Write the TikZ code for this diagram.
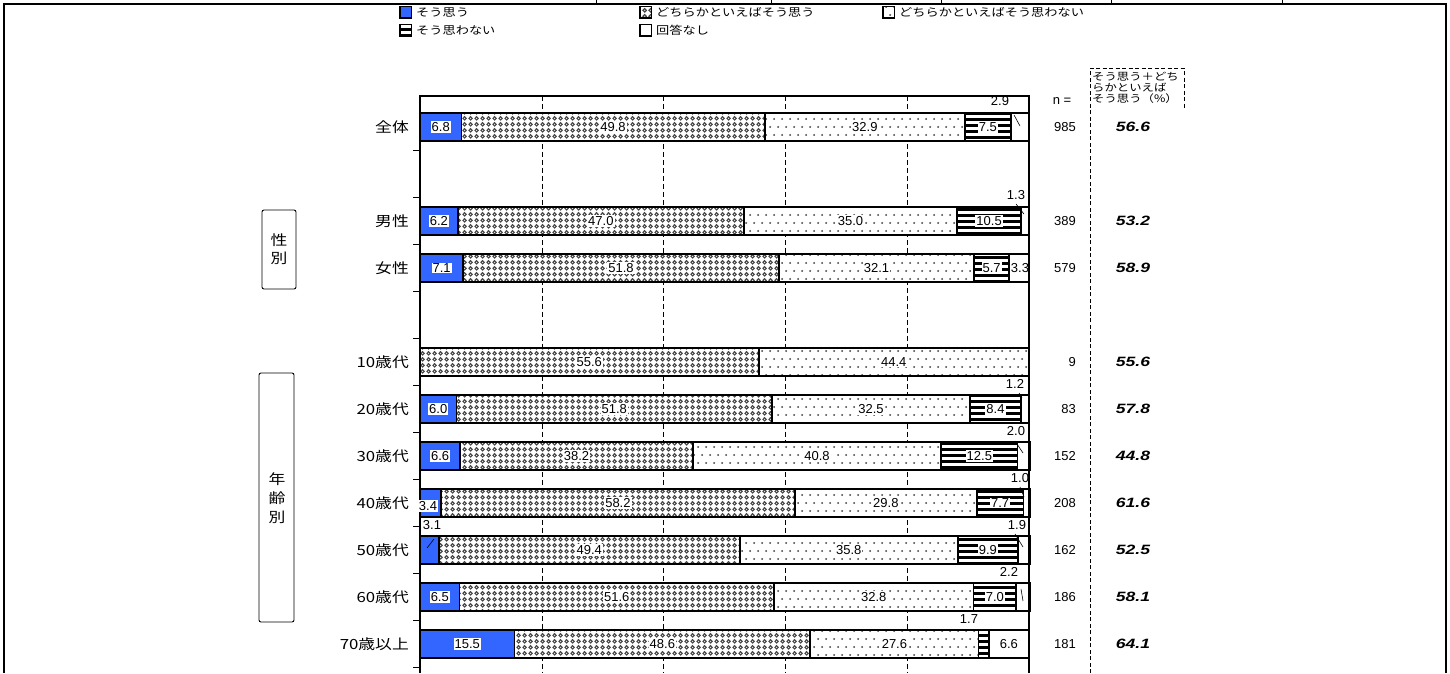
\documentclass[tikz,border=0pt]{standalone}
\usepackage{fontspec}
\usetikzlibrary{patterns}
\newfontfamily\jp[FakeStretch=1.2]{Noto Sans CJK JP}
\newfontfamily\nm{Liberation Sans}
\newfontfamily\sm[FakeStretch=1.3]{Liberation Sans}
\definecolor{jblue}{RGB}{51,102,255}
\pgfdeclarepatternformonly{diam}{\pgfpointorigin}{\pgfpoint{6pt}{6pt}}{\pgfpoint{6pt}{6pt}}{%
  \pgfpathmoveto{\pgfpoint{3pt}{0.2pt}}\pgfpathlineto{\pgfpoint{5.8pt}{3pt}}%
  \pgfpathlineto{\pgfpoint{3pt}{5.8pt}}\pgfpathlineto{\pgfpoint{0.2pt}{3pt}}\pgfpathclose
  \pgfpathmoveto{\pgfpoint{3pt}{2pt}}\pgfpathlineto{\pgfpoint{4pt}{3pt}}%
  \pgfpathlineto{\pgfpoint{3pt}{4pt}}\pgfpathlineto{\pgfpoint{2pt}{3pt}}\pgfpathclose
  \pgfseteorule\pgfusepath{fill}}
\pgfdeclarepatternformonly{sdots}{\pgfpoint{-1pt}{-1pt}}{\pgfpoint{9pt}{17pt}}{\pgfpoint{8pt}{16pt}}{%
  \pgfpathcircle{\pgfpoint{2pt}{2pt}}{1pt}\pgfpathcircle{\pgfpoint{6pt}{10pt}}{1pt}\pgfusepath{fill}}
\pgfdeclarepatternformonly{hstripes}{\pgfpoint{-0.5pt}{0pt}}{\pgfpoint{1.5pt}{6pt}}{\pgfpoint{1pt}{6pt}}{%
  \pgfpathrectangle{\pgfpoint{-0.5pt}{0pt}}{\pgfpoint{2pt}{3pt}}\pgfusepath{fill}}
\newcommand\drawbar[6]{%
  \pgfmathsetmacro\bxA{420}%
  \pgfmathsetmacro\bxB{\bxA+6.09*#2}%
  \pgfmathsetmacro\bxC{\bxB+6.09*#3}%
  \pgfmathsetmacro\bxD{\bxC+6.09*#4}%
  \pgfmathsetmacro\bxE{\bxD+6.09*#5}%
  \pgfmathsetmacro\bxF{\bxE+6.09*#6}%
  \path[segA] (\bxA,{#1-14}) rectangle (\bxB,{#1+14});
  \path[segB] (\bxB,{#1-14}) rectangle (\bxC,{#1+14});
  \path[segC] (\bxC,{#1-14}) rectangle (\bxD,{#1+14});
  \path[segD] (\bxD,{#1-14}) rectangle (\bxE,{#1+14});
  \path[segE] (\bxE,{#1-14}) rectangle (\bxF,{#1+14});
}
\begin{document}
\begin{tikzpicture}[x=1pt,y=-1pt,
  segA/.style={fill=jblue,draw=black,line width=1.8},
  segB/.style={preaction={fill=white},pattern=diam,pattern color=black!72,draw=black,line width=1.8},
  segC/.style={preaction={fill=white},pattern=sdots,pattern color=black!78,draw=black,line width=1.8},
  segD/.style={preaction={fill=white},pattern=hstripes,pattern color=black,draw=black,line width=1.8},
  segE/.style={fill=white,draw=black,line width=1.8},
  val/.style={fill=white,inner sep=1pt,font=\fontsize{13}{12}\selectfont\nm},
  oval/.style={inner sep=0.5pt,font=\fontsize{13}{12}\selectfont\nm},
  rowlab/.style={anchor=east,inner sep=0pt,font=\fontsize{14}{14}\selectfont\jp},
  nval/.style={anchor=east,inner sep=0pt,font=\fontsize{13}{12}\selectfont\nm},
  sval/.style={inner sep=0pt,font=\fontsize{13.5}{13}\selectfont\sm\bfseries\itshape},
  leg/.style={anchor=west,inner sep=0pt,font=\fontsize{11}{11}\selectfont\jp},
  legbox/.style={line width=1.8,draw=black},
  grid/.style={line width=0.6,dash pattern=on 5pt off 3pt},
  ldr/.style={line width=0.6},
  side/.style={draw=black,line width=0.9,rounded corners=2pt},
  sidetxt/.style={inner sep=0pt,font=\fontsize{14}{14}\selectfont\jp},
  hdr/.style={anchor=west,inner sep=0pt,font=\fontsize{10.3}{10}\selectfont\jp},
  dsh/.style={line width=0.7,dash pattern=on 4pt off 2.5pt}]
\useasboundingbox (0,0) rectangle (1450,673);

% outer frame
\draw[line width=2.6] (3,4) -- (1447,4);
\foreach \tx in {596,771,941,1111,1282}{\draw[line width=0.9] (\tx,0) -- (\tx,4);}
\draw[line width=1.4] (4,4) -- (4,673);
\draw[line width=1.4] (1446,4) -- (1446,673);

% legend
\path[legbox,fill=jblue] (400,6.5) rectangle (411.5,18);
\node[leg] (lg1) at (416,12.5) {そう思う};
\path[legbox,preaction={fill=white},pattern=diam,pattern color=black!72] (640,6.5) rectangle (651.5,18);
\node[leg] (lg2) at (656,12.5) {どちらかといえばそう思う};
\path[legbox,preaction={fill=white},pattern=sdots,pattern color=black!78] (883,6.5) rectangle (894.5,18);
\node[leg] (lg3) at (899,12.5) {どちらかといえばそう思わない};
\path[legbox,preaction={fill=white},pattern=hstripes,pattern color=black] (400,24.5) rectangle (411.5,36);
\node[leg] (lg4) at (416,30.5) {そう思わない};
\path[legbox,fill=white] (640,24.5) rectangle (651.5,36);
\node[leg] (lg5) at (656,30.5) {回答なし};

% grid
\foreach \gx in {541.8,663.6,785.4,907.2}{\draw[grid] (\gx,96) -- (\gx,673);}

% bars
\drawbar{127}{6.8}{49.8}{32.9}{7.5}{2.9}
\node[val] (a1) at ({(\bxA+\bxB)/2},127) {6.8};
\node[val] (a2) at ({(\bxB+\bxC)/2},127) {49.8};
\node[val] (a3) at ({(\bxC+\bxD)/2},127) {32.9};
\node[val] (a4) at ({(\bxD+\bxE)/2},127) {7.5};
\node[oval] (a5) at (1000,101) {2.9};
\coordinate (a5p) at (1014,115); \coordinate (a5q) at (1020,126);
\draw[ldr] (a5p) -- (a5q);

\drawbar{221}{6.2}{47.0}{35.0}{10.5}{1.3}
\node[val] (b1) at ({(\bxA+\bxB)/2},221) {6.2};
\node[val] (b2) at ({(\bxB+\bxC)/2},221) {47.0};
\node[val] (b3) at ({(\bxC+\bxD)/2},221) {35.0};
\node[val] (b4) at ({(\bxD+\bxE)/2},221) {10.5};
\node[oval] (b5) at (1016,195) {1.3};
\coordinate (b5p) at (1016,204); \coordinate (b5q) at (1024,214);
\draw[ldr] (b5p) -- (b5q);

\drawbar{268}{7.1}{51.8}{32.1}{5.7}{3.3}
\node[val] (c1) at ({(\bxA+\bxB)/2},268) {7.1};
\node[val] (c2) at ({(\bxB+\bxC)/2},268) {51.8};
\node[val] (c3) at ({(\bxC+\bxD)/2},268) {32.1};
\node[val] (c4) at ({(\bxD+\bxE)/2},268) {5.7};
\node[val] (c5) at (1020,268) {3.3};

\drawbar{362}{0}{55.6}{44.4}{0}{0}
\node[val] (d2) at ({(\bxB+\bxC)/2},362) {55.6};
\node[val] (d3) at ({(\bxC+\bxD)/2},362) {44.4};

\drawbar{409}{6.0}{51.8}{32.5}{8.4}{1.2}
\node[val] (e1) at ({(\bxA+\bxB)/2},409) {6.0};
\node[val] (e2) at ({(\bxB+\bxC)/2},409) {51.8};
\node[val] (e3) at ({(\bxC+\bxD)/2},409) {32.5};
\node[val] (e4) at ({(\bxD+\bxE)/2},409) {8.4};
\node[oval] (e5) at (1015,384) {1.2};
\coordinate (e5p) at (1019,393); \coordinate (e5q) at (1022,398);
\draw[ldr] (e5p) -- (e5q);

\drawbar{456}{6.6}{38.2}{40.8}{12.5}{2.0}
\node[val] (f1) at ({(\bxA+\bxB)/2},456) {6.6};
\node[val] (f2) at ({(\bxB+\bxC)/2},456) {38.2};
\node[val] (f3) at ({(\bxC+\bxD)/2},456) {40.8};
\node[val] (f4) at ({(\bxD+\bxE)/2},456) {12.5};
\node[oval] (f5) at (1016,431) {2.0};
\coordinate (f5p) at (1015,441); \coordinate (f5q) at (1023,453);
\draw[ldr] (f5p) -- (f5q);

\drawbar{503}{3.4}{58.2}{29.8}{7.7}{1.0}
\node[val] (g2) at ({(\bxB+\bxC)/2},503) {58.2};
\node[val] (g3) at ({(\bxC+\bxD)/2},503) {29.8};
\node[val] (g4) at ({(\bxD+\bxE)/2},503) {7.7};
\node[oval] (g5) at (1020,478) {1.0};
\coordinate (g5p) at (1020,487); \coordinate (g5q) at (1024,497);
\draw[ldr] (g5p) -- (g5q);

\drawbar{550}{3.1}{49.4}{35.8}{9.9}{1.9}
\node[oval] (h1) at (432,525) {3.1};
\coordinate (h1p) at (434,539); \coordinate (h1q) at (427,548);
\draw[ldr] (h1p) -- (h1q);
\node[val] (h2) at ({(\bxB+\bxC)/2},550) {49.4};
\node[val] (h3) at ({(\bxC+\bxD)/2},550) {35.8};
\node[val] (h4) at ({(\bxD+\bxE)/2},550) {9.9};
\node[oval] (h5) at (1017,525) {1.9};
\coordinate (h5p) at (1015,534); \coordinate (h5q) at (1023,547);
\draw[ldr] (h5p) -- (h5q);

\drawbar{597}{6.5}{51.6}{32.8}{7.0}{2.2}
\node[val] (i1) at ({(\bxA+\bxB)/2},597) {6.5};
\node[val] (i2) at ({(\bxB+\bxC)/2},597) {51.6};
\node[val] (i3) at ({(\bxC+\bxD)/2},597) {32.8};
\node[val] (i4) at ({(\bxD+\bxE)/2},597) {7.0};
\node[oval] (i5) at (1009,572) {2.2};
\coordinate (i5p) at (1021,589); \coordinate (i5q) at (1023,601);
\draw[ldr] (i5p) -- (i5q);

\drawbar{644}{15.5}{48.6}{27.6}{1.7}{6.6}
\node[val] (j1) at ({(\bxA+\bxB)/2},644) {15.5};
\node[val] (j2) at ({(\bxB+\bxC)/2},644) {48.6};
\node[val] (j3) at ({(\bxC+\bxD)/2},644) {27.6};
\node[oval] (j4) at (969,619) {1.7};
\node[val] (j5) at ({(\bxE+\bxF)/2},644) {6.6};

% plot frame
\draw[line width=2.6] (420,673) -- (420,96) -- (1029,96) -- (1029,673);
\foreach \ty in {150.5,197.5,244.5,291.5,338.5,385.5,432.5,479.5,526.5,573.5,620.5,667.5}{\draw[line width=0.9] (413,\ty) -- (420,\ty);}
\node[val] (g1) at (428,506) {3.4};

% row labels
\node[rowlab] (r1) at (409,127) {全体};
\node[rowlab] (r2) at (409,221) {男性};
\node[rowlab] (r3) at (409,268) {女性};
\node[rowlab] (r4) at (409,362) {10歳代};
\node[rowlab] (r5) at (409,409) {20歳代};
\node[rowlab] (r6) at (409,456) {30歳代};
\node[rowlab] (r7) at (409,503) {40歳代};
\node[rowlab] (r8) at (409,550) {50歳代};
\node[rowlab] (r9) at (409,597) {60歳代};
\node[rowlab] (r10) at (409,644) {70歳以上};

% side boxes
\draw[side] (262,210) rectangle (296,289);
\node[sidetxt] (s1) at (279,240) {性};
\node[sidetxt] (s2) at (279,258) {別};
\draw[side] (259,373) rectangle (294,622);
\node[sidetxt] (s3) at (277,479) {年};
\node[sidetxt] (s4) at (277,498) {齢};
\node[sidetxt] (s5) at (277,517) {別};

% n column
\node[inner sep=0pt,font=\fontsize{13}{12}\selectfont\nm] (nlab) at (1062,101) {n =};
\node[nval] (n1) at (1076,127) {985};
\node[nval] (n2) at (1076,221) {389};
\node[nval] (n3) at (1076,268) {579};
\node[nval] (n4) at (1076,362) {9};
\node[nval] (n5) at (1076,409) {83};
\node[nval] (n6) at (1076,456) {152};
\node[nval] (n7) at (1076,503) {208};
\node[nval] (n8) at (1076,550) {162};
\node[nval] (n9) at (1076,597) {186};
\node[nval] (n10) at (1076,644) {181};

% sum column
\draw[dsh] (1090,673) -- (1090,68) -- (1184,68) -- (1184,108);
\node[hdr] (h1a) at (1092,77) {そう思う＋どち};
\node[hdr] (h1b) at (1092,88) {らかといえば};
\node[hdr] (h1c) at (1092,99) {そう思う（\%）};
\node[sval] (t1) at (1133,127) {56.6};
\node[sval] (t2) at (1133,221) {53.2};
\node[sval] (t3) at (1133,268) {58.9};
\node[sval] (t4) at (1133,362) {55.6};
\node[sval] (t5) at (1133,409) {57.8};
\node[sval] (t6) at (1133,456) {44.8};
\node[sval] (t7) at (1133,503) {61.6};
\node[sval] (t8) at (1133,550) {52.5};
\node[sval] (t9) at (1133,597) {58.1};
\node[sval] (t10) at (1133,644) {64.1};
\end{tikzpicture}
\end{document}
